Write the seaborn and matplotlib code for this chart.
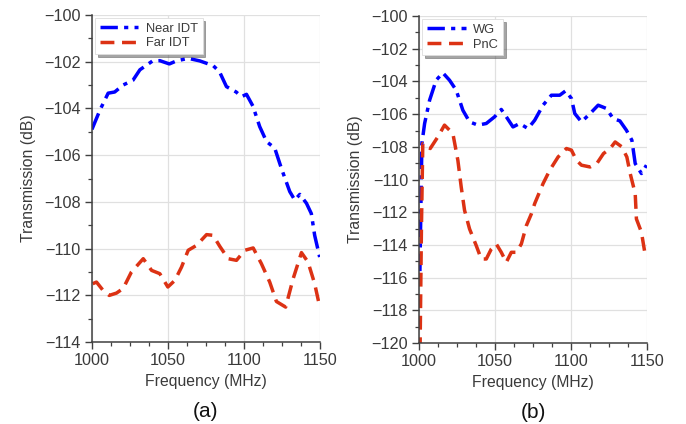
import numpy as np
import pandas as pd
import matplotlib
matplotlib.use("Agg")
import matplotlib.pyplot as plt
import seaborn as sns
from matplotlib.ticker import MultipleLocator

# panneau (a) : IDT proche / IDT lointain
freq_near = [1000, 1005.3, 1010.7, 1015, 1020.6, 1027, 1031.6, 1040, 1044.7, 1051, 1055.7,
             1063.4, 1071, 1079.8, 1084, 1088.6, 1095, 1098.5, 1101.8, 1106, 1110.5, 1115,
             1120.4, 1124.8, 1130.3, 1133.6, 1136.9, 1141.3, 1144.5, 1146.7, 1150]
near_idt = [-104.9, -104.07, -103.35, -103.3, -103.0, -102.8, -102.35, -101.97, -101.96, -102.1, -101.97,
            -101.86, -101.97, -102.17, -102.43, -103.07, -103.3, -103.5, -103.4, -103.9, -104.78, -105.42,
            -105.7, -106.57, -107.56, -107.92, -107.68, -108.06, -108.5, -109.43, -110.36]

freq_far = [1000.5, 1003, 1007.4, 1011.4, 1016.2, 1020.6, 1026, 1033.8, 1039.3, 1044.7, 1050,
            1054.6, 1059, 1063.4, 1068.9, 1075.5, 1079.8, 1084.2, 1089.7, 1095.2, 1100.7, 1106.2,
            1111.6, 1117.1, 1121.5, 1127.6, 1132.5, 1138, 1142.3, 1146.7, 1149.6]
far_idt = [-111.5, -111.43, -111.79, -112.0, -111.9, -111.7, -111.0, -110.43, -110.93, -111.07, -111.64,
           -111.36, -110.79, -110.07, -109.86, -109.4, -109.43, -109.9, -110.43, -110.5, -110.07, -109.97,
           -110.64, -111.43, -112.26, -112.5, -111.29, -110.17, -110.57, -111.5, -112.36]

# panneau (b) : guide d'onde / cristal phononique
freq_wg = [1000.5, 1001.8, 1003.6, 1006.9, 1011.2, 1015.6, 1020, 1024.4, 1028.8, 1033.2, 1038.7,
           1044.2, 1049.7, 1054.1, 1057.4, 1061.8, 1066.2, 1071.7, 1076.1, 1081.6, 1087.1, 1092.6,
           1096.5, 1100.3, 1102.5, 1106.9, 1112.6, 1117.9, 1123.3, 1127.8, 1132.2, 1136.5, 1140.1,
           1142.3, 1146.4, 1149.7]
wg = [-115.6, -107.8, -106.57, -105.14, -103.92, -103.47, -103.92, -104.53, -105.76, -106.47, -106.67,
      -106.57, -106.16, -105.71, -106.16, -106.78, -106.57, -106.88, -106.37, -105.45, -104.84, -104.84,
      -104.57, -105.04, -105.96, -106.47, -105.96, -105.45, -105.65, -106.27, -106.41, -106.98, -107.59,
      -109.02, -109.63, -109.12]

freq_pnc = [1000.6, 1001.5, 1002.4, 1007.3, 1012.3, 1016.7, 1022.2, 1025.5, 1027.7, 1029.9, 1033.2,
            1037.6, 1040.9, 1044.2, 1047.5, 1050.8, 1054.1, 1057.4, 1060.7, 1064, 1067.3, 1070.6,
            1073.9, 1076.1, 1081.6, 1086, 1091.5, 1097, 1100.3, 1103.6, 1106.9, 1112.6, 1117,
            1121.4, 1125.8, 1129.1, 1133.5, 1136.8, 1139, 1142.3, 1143.1, 1146.4, 1148.6, 1150]
pnc = [-120.5, -113.0, -107.8, -108.1, -107.39, -106.67, -107.18, -108.82, -110.45, -111.88, -113.02,
       -114.04, -114.86, -114.86, -114.25, -113.94, -114.45, -115.06, -114.45, -114.45, -113.94, -112.82,
       -112.1, -111.47, -110.25, -109.43, -108.62, -108.1, -108.2, -108.82, -109.12, -109.23, -109.02,
       -108.41, -108.1, -107.7, -108.0, -108.62, -109.63, -110.86, -112.41, -113.22, -114.45, -114.65]

sns.set_theme(style="ticks")
plt.rcParams['font.family'] = ['Liberation Sans', 'DejaVu Sans']

bleu = "#0000ff"
rouge = "#dc3214"
gris = "#404040"
tiret_point = (0, (5, 1.8, 1.2, 1.8))
tiret = (0, (4, 2.2))

fig = plt.figure(figsize=(6.86, 4.24), dpi=100)
ax1 = fig.add_axes([0.134, 0.193, 0.332, 0.772])
ax2 = fig.add_axes([0.611, 0.191, 0.332, 0.771])

sns.lineplot(x=freq_near, y=near_idt, ax=ax1, color=bleu, lw=2.5, linestyle=tiret_point, label="Near IDT", sort=False)
sns.lineplot(x=freq_far, y=far_idt, ax=ax1, color=rouge, lw=2.5, linestyle=tiret, label="Far IDT", sort=False)
sns.lineplot(x=freq_wg, y=wg, ax=ax2, color=bleu, lw=2.5, linestyle=tiret_point, label="WG", sort=False)
sns.lineplot(x=freq_pnc, y=pnc, ax=ax2, color=rouge, lw=2.5, linestyle=tiret, label="PnC", sort=False)

for ax, ymin, lettre in [(ax1, -114, "(a)"), (ax2, -120, "(b)")]:
    ax.set_xlim(1000, 1150)
    ax.set_ylim(ymin, -100)
    ax.xaxis.set_major_locator(MultipleLocator(50))
    ax.xaxis.set_minor_locator(MultipleLocator(12.5))
    ax.yaxis.set_major_locator(MultipleLocator(2))
    ax.yaxis.set_minor_locator(MultipleLocator(1))
    ax.grid(True, which="major", color="#e0e0e0", lw=0.9)
    ax.set_axisbelow(True)
    sns.despine(ax=ax)
    for s in ["left", "bottom"]:
        ax.spines[s].set_color(gris)
        ax.spines[s].set_linewidth(1.1)
    ax.tick_params(which="major", direction="out", length=5, width=1, color=gris,
                   labelsize=11.7, labelcolor="#3a3a3a", pad=3)
    ax.tick_params(which="minor", direction="out", length=3, width=0.9, color=gris)
    ax.set_xlabel("Frequency (MHz)", fontsize=11.3, color="#3a3a3a", labelpad=4)
    ax.set_ylabel("Transmission (dB)", fontsize=11.3, color="#3a3a3a", labelpad=6)
    leg = ax.legend(loc="upper left", fontsize=9.3, frameon=True, fancybox=False, shadow=True,
                    borderaxespad=0.25, handlelength=3, labelspacing=0.2, borderpad=0.35,
                    handletextpad=0.6)
    leg.get_frame().set_edgecolor("#dddddd")
    leg.get_frame().set_linewidth(0.6)
    for t in leg.get_texts():
        t.set_color("#3a3a3a")
    ax.text(0.5, -0.212, lettre, transform=ax.transAxes, ha="center", va="center",
            fontsize=15, color="#111111")

fig.savefig("out.png", dpi=100)
